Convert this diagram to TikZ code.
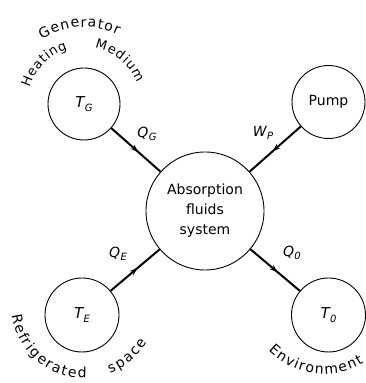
\documentclass[tikz,border=0pt]{standalone}
\usepackage{fontspec}
\setmainfont{DejaVu Sans}
\usetikzlibrary{decorations.text,decorations.markings,arrows.meta,calc}

\newcommand{\symlab}[2]{\itshape #1\kern0.3pt\raisebox{-0.45ex}{\fontsize{10}{10}\selectfont\itshape #2}}
\newcommand{\arcfont}{\fontsize{14}{16}\selectfont}
\newcommand{\arcfontsmall}{\fontsize{13}{15}\selectfont}

\begin{document}
\begin{tikzpicture}[x=1pt,y=1pt,
  ring/.style={draw, circle, line width=0.9pt, inner sep=0pt},
  flow/.style={line width=2pt, postaction={decorate, decoration={markings,
      mark=at position 0.55 with {\arrow{Stealth[length=8pt,width=5.5pt]}}}}},
  tlab/.style={font=\fontsize{15}{17}\selectfont},
  qlab/.style={font=\fontsize{14}{16}\selectfont, inner sep=0pt},
  curved/.style={decorate, decoration={text along path, text align={fit to path}}}
]
\useasboundingbox (0,0) rectangle (366,383);

% circles
\node[ring, minimum size=118pt, align=center, font=\fontsize{14}{20}\selectfont] (C) at (205,172)
  {Absorption\\fluids\\system};
\node[ring, minimum size=72pt, tlab] (TG) at (84,279) {\symlab{T}{G}};
\node[ring, minimum size=73pt, font=\fontsize{14}{16}\selectfont] (P) at (328.5,281) {Pump};
\node[ring, minimum size=74pt, tlab] (TE) at (82,68) {\symlab{T}{E}};
\node[ring, minimum size=74pt, tlab] (T0) at (328.5,68) {\symlab{T}{0}};

% connectors
\draw[flow] (TG) -- (C);
\draw[flow] (P) -- (C);
\draw[flow] (TE) -- (C);
\draw[flow] (C) -- (T0);

% flow labels
\node[qlab] (qg) at (147,249) {\symlab{Q}{G}};
\node[qlab] (wp) at (263,250) {\symlab{W}{P}};
\node[qlab] (qe) at (118,129) {\symlab{Q}{E}};
\node[qlab] (q0) at (292,130) {\symlab{Q}{0}};

% curved texts
\coordinate (rc) at (84,78);
\coordinate (ec) at (324,87);
\path[curved, decoration={text={|\arcfont|Generator}}]
  ($(TG.center)+(123:77)$) arc[start angle=123, end angle=64, radius=77];
\path[curved, decoration={text={|\arcfontsmall|Heating}}]
  ($(TG.center)+(163:57)$) arc[start angle=163, end angle=107, radius=57];
\path[curved, decoration={text={|\arcfontsmall|Medium}}]
  ($(TG.center)+(79:57)$) arc[start angle=79, end angle=22, radius=57];
\path[curved, decoration={text={|\arcfont|Refrigerated}}]
  ($(rc)+(188:73)$) arc[start angle=188, end angle=272, radius=73];
\path[curved, decoration={text={|\arcfont|space}}]
  ($(rc)+(291:73)$) arc[start angle=291, end angle=329, radius=73];
\path[curved, decoration={text={|\arcfont|Environment}}]
  ($(ec)+(224.5:78)$) arc[start angle=224.5, end angle=300.5, radius=78];
\end{tikzpicture}
\end{document}
